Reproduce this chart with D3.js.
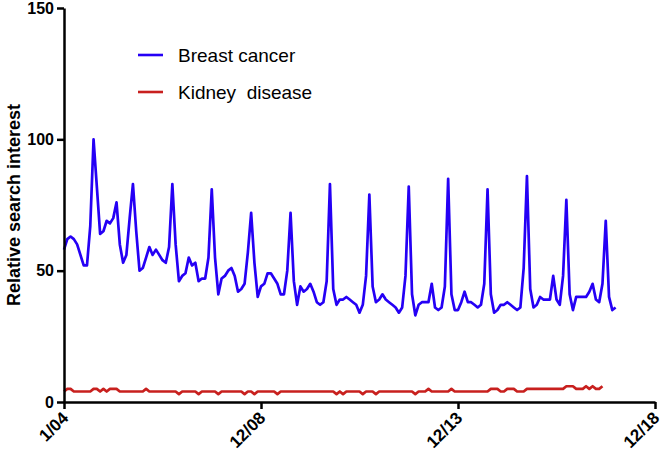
<!DOCTYPE html>
<html>
<head>
<meta charset="utf-8">
<script src="https://cdn.jsdelivr.net/npm/d3@7"></script>
<style>
  html, body { margin: 0; padding: 0; background: #fff; }
  svg { display: block; font-family: "Liberation Sans", Arial, sans-serif; }
</style>
</head>
<body>
<svg id="chart" width="664" height="455"></svg>
<script>
// Monthly relative search interest, Jan 2004 onward (month index = position)
const breastCancer = [
  58, 62, 63, 62, 60, 56, 52, 52, 67, 100, 82, 64,
  65, 69, 68, 70, 76, 60, 53, 56, 70, 83, 65, 50,
  51, 55, 59, 56, 58, 56, 54, 53, 59, 83, 60, 46,
  48, 49, 55, 52, 53, 46, 47, 47, 55, 81, 55, 41,
  47, 48, 50, 51, 48, 42, 43, 45, 57, 72, 53, 40,
  44, 45, 49, 49, 47, 45, 41, 41, 50, 72, 46, 37,
  44, 42, 43, 45, 42, 38, 37, 38, 46, 83, 43, 37,
  39, 39, 40, 39, 38, 37, 34, 37, 48, 79, 44, 38,
  39, 41, 39, 38, 37, 36, 34, 36, 48, 82, 41, 33,
  37, 38, 38, 38, 45, 36, 35, 36, 44, 85, 41, 35,
  35, 38, 42, 38, 38, 37, 36, 37, 45, 81, 41, 34,
  35, 37, 37, 38, 37, 36, 35, 36, 51, 86, 43, 36,
  37, 40, 39, 39, 39, 48, 39, 37, 48, 77, 41, 35,
  40, 40, 40, 40, 42, 45, 39, 38, 45, 69, 40, 35,
  36
];
const kidneyDisease = [
  4, 5, 5, 4, 4, 4, 4, 4, 4, 5, 5, 4,
  5, 4, 5, 5, 5, 4, 4, 4, 4, 4, 4, 4,
  4, 5, 4, 4, 4, 4, 4, 4, 4, 4, 4, 3,
  4, 4, 4, 4, 4, 3, 4, 4, 4, 4, 4, 3,
  4, 4, 4, 4, 4, 4, 4, 3, 4, 4, 3, 4,
  4, 4, 4, 4, 4, 3, 4, 4, 4, 4, 4, 4,
  4, 4, 4, 4, 4, 4, 4, 4, 4, 4, 4, 3,
  4, 3, 4, 4, 4, 4, 4, 3, 4, 4, 4, 3,
  4, 4, 4, 4, 4, 4, 4, 4, 4, 4, 4, 3,
  4, 4, 4, 5, 4, 4, 4, 4, 4, 4, 5, 4,
  4, 4, 4, 4, 4, 4, 4, 4, 4, 4, 5, 5,
  5, 4, 4, 5, 5, 5, 4, 4, 4, 5, 5, 5,
  5, 5, 5, 5, 5, 5, 5, 5, 5, 6, 6, 6,
  5, 5, 5, 6, 5, 6, 5, 5, 6
];
const seriesNames = ["Breast cancer", "Kidney  disease"];
const seriesColors = ["#2500f5", "#c8201e"];
const xTickValues = [0, 60, 120, 180];
const xTickLabels = ["1/04", "12/08", "12/13", "12/18"];
const yTickValues = [0, 50, 100, 150];

const svg = d3.select("#chart");
const mLeft = 64, mRight = 655, mTop = 8, mBottom = 402;

const x = d3.scaleLinear().domain([0, 180]).range([mLeft, mRight]);
const y = d3.scaleLinear().domain([0, 150]).range([mBottom, mTop]);

// Lines
const line = d3.line().x((d, i) => x(i)).y(d => y(d));
[breastCancer, kidneyDisease].forEach((s, k) => {
  svg.append("path")
    .datum(s)
    .attr("fill", "none")
    .attr("stroke", seriesColors[k])
    .attr("stroke-width", 2.7)
    .attr("stroke-linejoin", "round")
    .attr("d", line);
});

// Y axis
const yAxis = svg.append("g")
  .attr("transform", `translate(${mLeft},0)`)
  .call(d3.axisLeft(y).tickValues(yTickValues).tickSize(7).tickPadding(3).tickSizeOuter(0));
yAxis.select(".domain").attr("stroke", "#000").attr("stroke-width", 2.5);
yAxis.selectAll(".tick line").attr("stroke", "#000").attr("stroke-width", 2.5);
yAxis.selectAll(".tick text")
  .attr("font-family", "'Liberation Sans', Arial, sans-serif")
  .attr("font-size", 16).attr("font-weight", "bold").attr("fill", "#000");

// X axis
const xAxis = svg.append("g")
  .attr("transform", `translate(0,${mBottom})`)
  .call(d3.axisBottom(x).tickValues(xTickValues).tickSize(7).tickSizeOuter(0)
        .tickFormat((d, i) => xTickLabels[i]));
xAxis.select(".domain").attr("stroke", "#000").attr("stroke-width", 2.5);
xAxis.selectAll(".tick line").attr("stroke", "#000").attr("stroke-width", 2.5);
xAxis.selectAll(".tick text")
  .attr("font-family", "'Liberation Sans', Arial, sans-serif")
  .attr("font-size", 17).attr("font-weight", "bold").attr("fill", "#000")
  .attr("text-anchor", "end")
  .attr("y", 0).attr("dy", 0)
  .attr("transform", "translate(5,17) rotate(-45)");

// Y title
svg.append("text")
  .attr("transform", `translate(20,${(mTop + mBottom) / 2}) rotate(-90)`)
  .attr("text-anchor", "middle")
  .attr("font-size", 18).attr("font-weight", "bold").attr("fill", "#000")
  .text("Relative search interest");

// Legend
const legend = svg.append("g");
seriesNames.forEach((name, k) => {
  const ly = 55 + k * 37;
  legend.append("line")
    .attr("x1", 138).attr("x2", 163).attr("y1", ly).attr("y2", ly)
    .attr("stroke", seriesColors[k]).attr("stroke-width", 2.6);
  legend.append("text")
    .attr("x", 178).attr("y", ly).attr("dy", "0.35em")
    .attr("font-size", 19).attr("fill", "#000")
    .style("white-space", "pre")
    .text(name);
});
</script>
</body>
</html>
